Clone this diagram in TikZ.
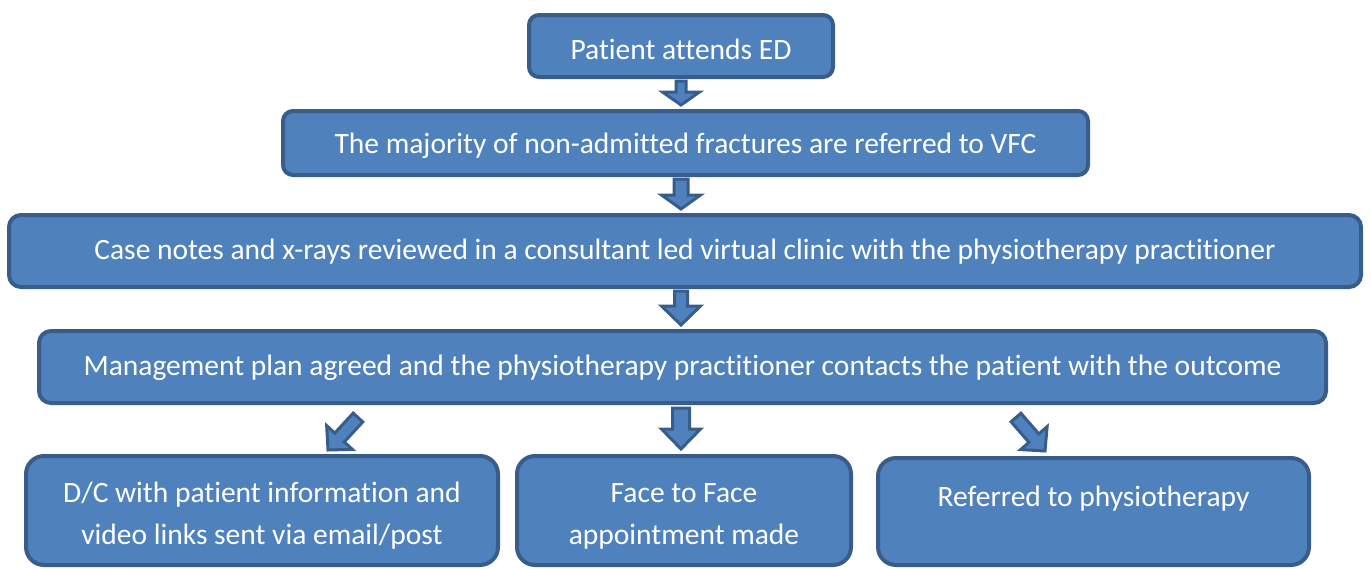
\documentclass[tikz,border=0pt]{standalone}
\usepackage{fontspec}
\setmainfont[Ligatures={NoCommon,NoRare,NoContextual},Contextuals=NoAlternate]{Carlito}
\usetikzlibrary{calc}
\definecolor{fil}{HTML}{4F81BD}
\definecolor{bdr}{HTML}{385D8A}
\newcommand\blockarrow[5]{%
  \coordinate (ba-h) at ($(#2)!#5!(#1)$);
  \draw[blockarr] ($(#1)!#3!90:(#2)$) -- ($(ba-h)!#3!-90:(#1)$) -- ($(ba-h)!#4!-90:(#1)$) -- (#2) -- ($(ba-h)!#4!90:(#1)$) -- ($(ba-h)!#3!90:(#1)$) -- ($(#1)!#3!-90:(#2)$) -- cycle;
}
\tikzset{
  box/.style={draw=bdr, fill=fil, line width=4pt, rounded corners=10pt, text=white, inner sep=0pt, align=center, text height=27pt, font=\fontsize{29.5}{42}\selectfont},
  bbox/.style={box, rounded corners=18pt, text height=69pt, text depth=2pt},
  blockarr/.style={draw=bdr, fill=fil, line width=3pt, line join=miter},
}
\begin{document}
\begin{tikzpicture}[x=1pt, y=-1pt]
\useasboundingbox (0,0) rectangle (1371,568);
\node[box, text depth=1pt, minimum width=304pt, minimum height=62pt] (p1) at (681,46) {Patient attends ED};
\node[box, text depth=6pt, minimum width=805pt, minimum height=64pt] (p2) at (685.5,143) {The majority of non-admitted fractures are referred to VFC};
\node[box, text depth=11pt, rounded corners=12pt, minimum width=1352pt, minimum height=72pt] (p3) at (685,251) {Case notes and x-rays reviewed in a consultant led virtual clinic with the physiotherapy practitioner};
\node[box, text depth=11pt, rounded corners=12pt, minimum width=1287pt, minimum height=72pt] (p4) at (682.5,367) {Management plan agreed and the physiotherapy practitioner contacts the patient with the outcome};
\node[bbox, minimum width=472pt, minimum height=109pt] (p5) at (262,510.5) {D/C with patient information and\\video links sent via email/post};
\node[bbox, minimum width=334pt, minimum height=109pt] (p6) at (684,510.5) {Face to Face\\appointment made};
\node[bbox, text height=27pt, text depth=38pt, minimum width=431pt, minimum height=107pt] (p7) at (1093.5,511.5) {Referred to physiotherapy};
\coordinate (a1s) at ($(p1.south)+(0,2)$);
\coordinate (a1e) at ($(p1.south |- p2.north)+(0,-4)$);
\coordinate (a2s) at ($(p1.south |- p2.south)+(0,2)$);
\coordinate (a2e) at ($(p1.south |- p3.north)+(0,-4)$);
\coordinate (a3s) at ($(p1.south |- p3.south)+(0,2)$);
\coordinate (a3e) at ($(p1.south |- p4.north)+(0,-4)$);
\coordinate (a4s) at ($(p1.south |- p4.south)+(0,3)$);
\coordinate (a4e) at ($(p1.south |- p6.north)+(0,-5)$);
\coordinate (d1s) at (358,417.5);
\coordinate (d1e) at (328,450);
\coordinate (d2s) at (1016,417.5);
\coordinate (d2e) at (1045,451);
\blockarrow{a1s}{a1e}{5pt}{18.5pt}{13pt}
\blockarrow{a2s}{a2e}{7pt}{19.5pt}{14pt}
\blockarrow{a3s}{a3e}{6.5pt}{19.5pt}{19pt}
\blockarrow{a4s}{a4e}{8.5pt}{19.5pt}{20pt}
\blockarrow{d1s}{d1e}{6.5pt}{17.5pt}{17pt}
\blockarrow{d2s}{d2e}{6.5pt}{17.5pt}{17pt}
\end{tikzpicture}
\end{document}
